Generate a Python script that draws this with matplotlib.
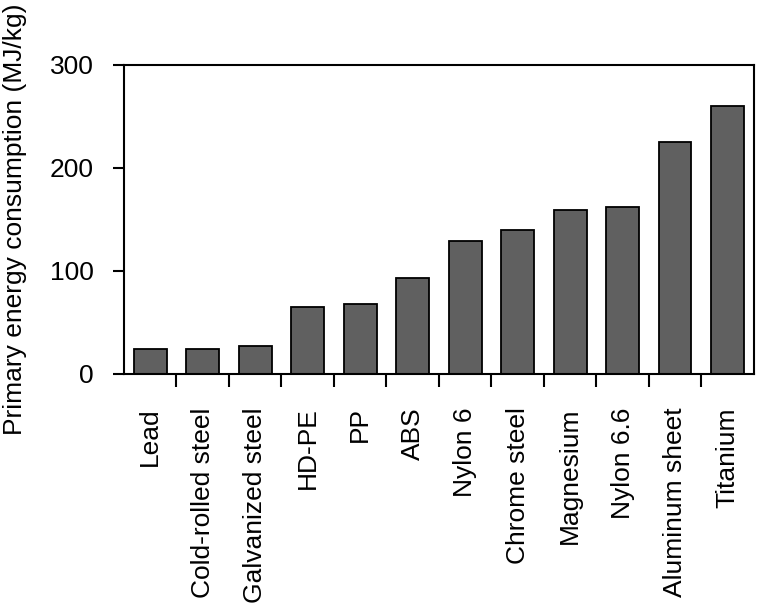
import matplotlib
matplotlib.use("Agg")
import matplotlib.pyplot as plt
import numpy as np

materials = ["Lead", "Cold-rolled steel", "Galvanized steel", "HD-PE", "PP", "ABS",
             "Nylon 6", "Chrome steel", "Magnesium", "Nylon 6.6", "Aluminum sheet", "Titanium"]
energy = [24, 24, 27.5, 65, 68, 93, 129, 140, 159, 162, 225, 260]

plt.rcParams['font.family'] = ['Liberation Sans', 'DejaVu Sans']
plt.rcParams['font.size'] = 19

fig = plt.figure(figsize=(7.57, 6.07), dpi=100)
ax = fig.add_axes([0.1638, 0.3839, 0.8322, 0.5091])

x = np.arange(len(materials))
ax.bar(x, energy, width=0.62, color='#606060', edgecolor='black', linewidth=1.3)

ax.set_xlim(-0.5, len(materials) - 0.5)
ax.set_ylim(0, 300)
ax.set_yticks([0, 100, 200, 300])

ax.set_xticks(x)
ax.set_xticklabels(materials, rotation=90, va='top', ha='center')
ax.set_xticks(np.arange(0.5, len(materials) - 0.5, 1), minor=True)
ax.tick_params(axis='x', which='major', length=0, pad=24)
ax.tick_params(axis='x', which='minor', length=9, width=1.5, direction='out')
ax.tick_params(axis='y', length=8, width=1.5, direction='out', pad=14)

for s in ax.spines.values():
    s.set_linewidth(1.5)

ax.set_ylabel('Primary energy consumption (MJ/kg)', labelpad=16)

fig.savefig('out.png', dpi=100)
